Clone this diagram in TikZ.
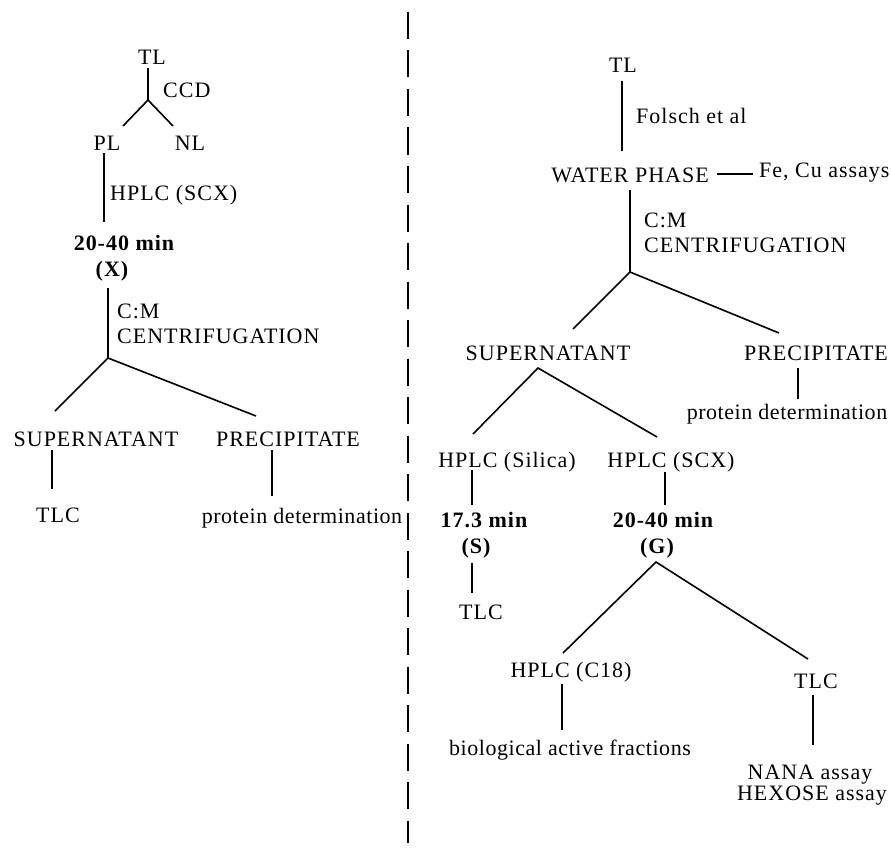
\documentclass[tikz,border=0pt]{standalone}
\usepackage{fontspec}
\setmainfont{Liberation Serif}[LetterSpace=4.5]
\newfontfamily\tightserif{Liberation Serif}[LetterSpace=2.5]
\begin{document}
\begin{tikzpicture}[x=1pt,y=-1pt,
  lbl/.style={inner sep=0pt,anchor=base,font=\fontsize{22}{24}\selectfont},
  lblw/.style={lbl,anchor=base west},
  tlbl/.style={lbl,font=\tightserif\fontsize{22}{24}\selectfont},
  blbl/.style={lbl,font=\fontsize{22}{24}\selectfont\bfseries},
  conn/.style={line width=1.6pt},
  divider/.style={line width=1.8pt,dash pattern=on 27pt off 11.5pt}]
\useasboundingbox (0,0) rectangle (891,848);
% ---------- divider
\coordinate (dtop) at (408,12);
\coordinate (dbot) at (408,843);
\draw[divider] (dtop) -- (dbot);
% ---------- left tree
\node[lbl] (lTL) at (152,65) {TL};
\node[lblw] (lCCD) at (163,98) {CCD};
\node[lbl] (lPL) at (107,150) {PL};
\node[lbl] (lNL) at (190,150) {NL};
\node[lblw] (lHPLC) at (110,200) {HPLC (SCX)};
\node[blbl] (lmin) at (124,250) {20-40 min};
\node[blbl] (lX) at (112,276) {(X)};
\node[lblw] (lCM) at (117,318) {C:M};
\node[lblw] (lCEN) at (117,343) {CENTRIFUGATION};
\node[lbl] (lSUP) at (96,446) {SUPERNATANT};
\node[lbl] (lPRE) at (288,446) {PRECIPITATE};
\node[lbl] (lTLC) at (58,522) {TLC};
\node[tlbl] (lPROT) at (302,523) {protein determination};
\coordinate (lj1) at (148,100);
\coordinate (lTLb) at (148,68);
\coordinate (lPLt) at (123,126);
\coordinate (lNLt) at (173,126);
\draw[conn] (lTLb) -- (lj1);
\draw[conn] (lPLt) -- (lj1) -- (lNLt);
\coordinate (lPLb) at (104,153);
\coordinate (lmint) at (104,222);
\draw[conn] (lPLb) -- (lmint);
\coordinate (lXb) at (108,288);
\coordinate (lj2) at (108,358);
\coordinate (lSUPt) at (55,411);
\coordinate (lPREt) at (256,416);
\draw[conn] (lXb) -- (lj2);
\draw[conn] (lSUPt) -- (lj2) -- (lPREt);
\coordinate (lSUPb) at (52,450);
\coordinate (lTLCt) at (52,489);
\draw[conn] (lSUPb) -- (lTLCt);
\coordinate (lPREb) at (272,450);
\coordinate (lPROTt) at (272,496);
\draw[conn] (lPREb) -- (lPROTt);
% ---------- right tree
\node[lbl] (rTL) at (623,73) {TL};
\node[lblw] (rFOL) at (636,124) {Folsch et al};
\node[lbl] (rWAT) at (630,182) {WATER PHASE};
\node[lblw] (rFE) at (759,177) {Fe, Cu assays};
\node[lblw] (rCM) at (644,227) {C:M};
\node[lblw] (rCEN) at (644,252) {CENTRIFUGATION};
\node[lbl] (rSUP) at (548,360) {SUPERNATANT};
\node[lbl] (rPRE) at (816,360) {PRECIPITATE};
\node[tlbl] (rPROT) at (787,419) {protein determination};
\node[lbl] (rSIL) at (507,467) {HPLC (Silica)};
\node[lbl] (rSCX) at (671,467) {HPLC (SCX)};
\node[blbl] (rSmin) at (484,527) {17.3 min};
\node[blbl] (rS) at (476,553) {(S)};
\node[blbl] (rGmin) at (663,527) {20-40 min};
\node[blbl] (rG) at (657,553) {(G)};
\node[lbl] (rTLC1) at (481,619) {TLC};
\node[lbl] (rC18) at (571,677) {HPLC (C18)};
\node[tlbl] (rBIO) at (570,755) {biological active fractions};
\node[lbl] (rTLC2) at (816,688) {TLC};
\node[lbl] (rNANA) at (810,779) {NANA assay};
\node[lbl] (rHEX) at (812,800) {HEXOSE assay};
\coordinate (rTLb) at (622,81);
\coordinate (rWATt) at (622,151);
\draw[conn] (rTLb) -- (rWATt);
\coordinate (rWATr) at (717,174);
\coordinate (rFEl) at (753,174);
\draw[conn] (rWATr) -- (rFEl);
\coordinate (rWATb) at (630,190);
\coordinate (rj1) at (630,272);
\coordinate (rSUPt) at (573,329);
\coordinate (rPREt) at (779,333);
\draw[conn] (rWATb) -- (rj1);
\draw[conn] (rSUPt) -- (rj1) -- (rPREt);
\coordinate (rPREb) at (798,368);
\coordinate (rPROTt) at (798,399);
\draw[conn] (rPREb) -- (rPROTt);
\coordinate (rj2) at (538,368);
\coordinate (rSILt) at (473,434);
\coordinate (rSCXt) at (657,437);
\draw[conn] (rSILt) -- (rj2) -- (rSCXt);
\coordinate (rSILb) at (472,470);
\coordinate (rSmint) at (472,505);
\draw[conn] (rSILb) -- (rSmint);
\coordinate (rSCXb) at (665,472);
\coordinate (rGmint) at (665,505);
\draw[conn] (rSCXb) -- (rGmint);
\coordinate (rSb) at (472,563);
\coordinate (rTLC1t) at (472,593);
\draw[conn] (rSb) -- (rTLC1t);
\coordinate (rj3) at (656,562);
\coordinate (rC18t) at (563,653);
\coordinate (rTLC2t) at (808,659);
\draw[conn] (rC18t) -- (rj3) -- (rTLC2t);
\coordinate (rC18b) at (562,684);
\coordinate (rBIOt) at (562,730);
\draw[conn] (rC18b) -- (rBIOt);
\coordinate (rTLC2b) at (813,695);
\coordinate (rNANAt) at (813,745);
\draw[conn] (rTLC2b) -- (rNANAt);
\end{tikzpicture}
\end{document}
